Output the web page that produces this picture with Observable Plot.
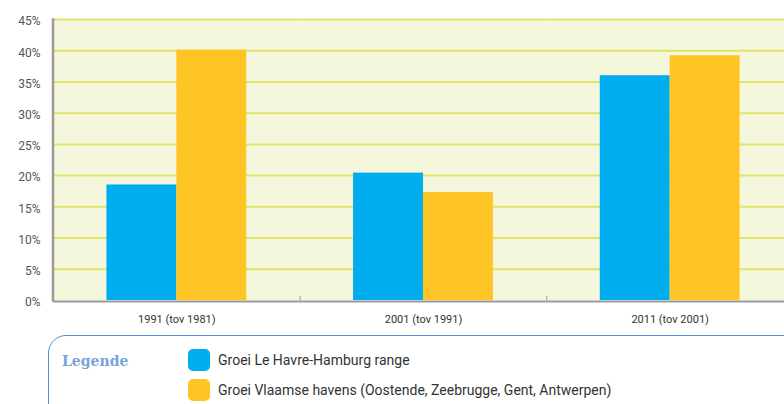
<!DOCTYPE html>
<html><head><meta charset="utf-8">
<script src="https://cdn.jsdelivr.net/npm/d3@7"></script>
<script src="https://cdn.jsdelivr.net/npm/@observablehq/plot@0.6"></script>
<style>
html,body{margin:0;padding:0;background:#fff;overflow:hidden;width:784px;height:404px;font-family:Roboto,sans-serif;}
#chart{position:absolute;left:0;top:0;}
#chart svg{max-width:none !important;}
#legend{position:absolute;left:48px;top:335px;width:800px;height:120px;border:1.5px solid #4a8fd2;border-radius:18px 0 0 0;box-sizing:border-box;}
#legend .title{position:absolute;left:13px;top:17px;font-family:"DejaVu Serif",serif;font-weight:bold;font-size:14px;color:#79a3da;}
#legend .item{position:absolute;left:139px;height:22px;display:flex;align-items:center;white-space:nowrap;font-size:14px;color:#333;}
#legend .sw{width:22px;height:22px;border-radius:5px;margin-right:8px;flex:none;}
</style>
</head><body>
<div id="chart"></div>
<div id="legend"><div class="title">Legende</div></div>
<script>
const categories = ["1991 (tov 1981)", "2001 (tov 1991)", "2011 (tov 2001)"];
const seriesNames = ["Groei Le Havre-Hamburg range", "Groei Vlaamse havens (Oostende, Zeebrugge, Gent, Antwerpen)"];
const havreValues = [18.5, 20.4, 36.0];
const vlaamseValues = [40.1, 17.3, 39.2];
const yTicks = [0, 5, 10, 15, 20, 25, 30, 35, 40, 45];
const colors = ["#00AEEF", "#FFC425"];

const data = categories.flatMap((c, i) => [
  {cat: c, series: seriesNames[0], value: havreValues[i]},
  {cat: c, series: seriesNames[1], value: vlaamseValues[i]}
]);

const chart = Plot.plot({
  width: 793, height: 330,
  marginLeft: 53, marginRight: 0, marginTop: 19, marginBottom: 30,
  facet: {marginTop: 0, marginRight: 0, marginBottom: 0, marginLeft: 0},
  style: {fontFamily: "Roboto, sans-serif", fontSize: "11px", color: "#444", background: "transparent", overflow: "visible", maxWidth: "none"},
  fx: {domain: categories, padding: 0, label: null, round: false},
  x: {domain: seriesNames, paddingInner: 0, paddingOuter: 0.764, axis: null, round: false},
  y: {domain: [0, 45], label: null, axis: null},
  color: {domain: seriesNames, range: colors},
  marks: [
    Plot.frame({fill: "#F5F7DD", stroke: null}),
    Plot.ruleY(yTicks.filter(t => t > 0), {y: d => d, stroke: "#E3E26A", strokeWidth: 2}),
    Plot.barY(data, {fx: "cat", x: "series", y: "value", fill: "series"}),
    Plot.ruleY([0], {stroke: "#9a9a9a", strokeWidth: 2, dy: 1}),
    Plot.frame({anchor: "left", stroke: "#9a9a9a", strokeWidth: 1, insetTop: 277}),
    Plot.frame({anchor: "left", stroke: "#9a9a9a", strokeWidth: 2.5, fx: () => categories[0], dx: -0.5}),
    Plot.axisY({ticks: yTicks, tickFormat: d => d + "%", tickSize: 0, tickPadding: 13, label: null, fontSize: 12, fill: "#555", dy: 2}),
    Plot.axisFx({anchor: "bottom", tickSize: 0, tickPadding: 15, label: null, fontSize: 11, fill: "#333"})
  ]
});
document.getElementById("chart").appendChild(chart);

const legend = document.getElementById("legend");
seriesNames.forEach((name, i) => {
  const item = document.createElement("div");
  item.className = "item";
  item.style.top = (13 + i * 30) + "px";
  const sw = document.createElement("div");
  sw.className = "sw";
  sw.style.background = colors[i];
  item.appendChild(sw);
  item.appendChild(document.createTextNode(name));
  legend.appendChild(item);
});
</script>
</body></html>
